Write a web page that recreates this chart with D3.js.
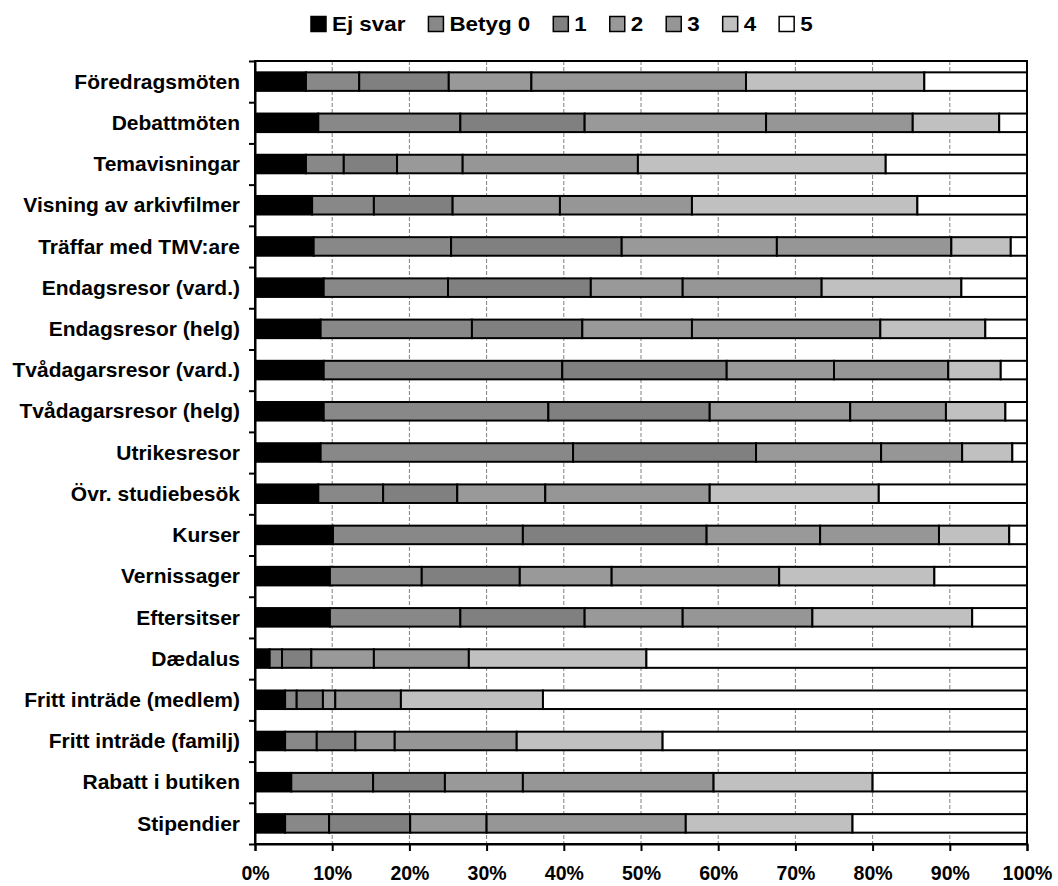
<!DOCTYPE html>
<html><head><meta charset="utf-8">
<script src="https://cdn.jsdelivr.net/npm/d3@7"></script>
<style>
body{margin:0;background:#fff}
text{font-family:"Liberation Sans",Arial,sans-serif;font-weight:bold;fill:#000}
</style>
</head><body><svg id="c" width="1058" height="886"></svg>
<script>
const categories = ["Föredragsmöten","Debattmöten","Temavisningar","Visning av arkivfilmer","Träffar med TMV:are","Endagsresor (vard.)","Endagsresor (helg)","Tvådagarsresor (vard.)","Tvådagarsresor (helg)","Utrikesresor","Övr. studiebesök","Kurser","Vernissager","Eftersitser","Dædalus","Fritt inträde (medlem)","Fritt inträde (familj)","Rabatt i butiken","Stipendier"];
const seriesNames = ["Ej svar","Betyg 0","1","2","3","4","5"];
const ejSvar = [6.6,8.2,6.6,7.4,7.6,8.9,8.5,8.9,8.9,8.5,8.2,10.1,9.7,9.7,1.9,3.9,3.9,4.7,3.9];
const betyg0 = [6.9,18.4,4.9,8.0,17.8,16.1,19.6,30.9,29.1,32.7,8.4,24.6,11.9,16.9,1.6,1.5,4.1,10.6,5.7];
const betyg1 = [11.6,16.1,6.9,10.2,22.1,18.5,14.3,21.3,20.9,23.7,9.6,23.8,12.7,16.1,3.8,3.4,5.0,9.3,10.5];
const betyg2 = [10.7,23.5,8.5,13.9,20.1,11.9,14.2,13.9,18.2,16.2,11.4,14.7,11.9,12.7,8.1,1.6,5.1,10.1,9.9];
const betyg3 = [27.8,19.0,22.7,17.1,22.6,18.0,24.4,14.8,12.4,10.5,21.3,15.4,21.7,16.8,12.3,8.5,15.8,24.7,25.8];
const betyg4 = [23.1,11.2,32.1,29.2,7.7,18.1,13.6,6.8,7.7,6.5,21.9,9.1,20.1,20.7,23.0,18.4,18.9,20.6,21.6];
const betyg5 = [13.3,3.6,18.3,14.2,2.1,8.5,5.4,3.4,2.8,1.9,19.2,2.3,12.0,7.1,49.3,62.7,47.2,20.0,22.6];
const xTicks = [0,0.1,0.2,0.3,0.4,0.5,0.6,0.7,0.8,0.9,1];
const colors = ["#000000","#888888","#808080","#999999","#969696","#c0c0c0","#ffffff"];

const seriesValues = [ejSvar,betyg0,betyg1,betyg2,betyg3,betyg4,betyg5];
const rows = categories.map((c,i)=>{
  const o = {cat:c};
  seriesNames.forEach((s,j)=>o[s]=seriesValues[j][i]);
  return o;
});
const stack = d3.stack().keys(seriesNames).offset(d3.stackOffsetExpand);
const stacked = stack(rows);

const svg = d3.select("#c");
const L=255,R=1027,T=61,B=844;
const x = d3.scaleLinear([0,1],[L,R]);
const y = d3.scaleBand(categories,[T,B]).paddingInner(0.55).paddingOuter(0.275);
const yLin = d3.scaleLinear([0,categories.length],[T,B]);

// gridlines
svg.append("g").selectAll("line").data(xTicks.slice(1,-1)).join("line")
  .attr("x1",d=>x(d)).attr("x2",d=>x(d)).attr("y1",T).attr("y2",B)
  .attr("stroke","#808080").attr("stroke-width",1).attr("stroke-dasharray","4,2");

// bars
svg.append("g").selectAll("g").data(stacked).join("g")
  .attr("fill",(d,i)=>colors[i])
  .selectAll("rect").data(d=>d).join("rect")
  .attr("x",d=>x(d[0])).attr("width",d=>x(d[1])-x(d[0]))
  .attr("y",d=>y(d.data.cat)).attr("height",y.bandwidth())
  .attr("stroke","#000").attr("stroke-width",2);

// border
svg.append("rect").attr("x",L).attr("y",T).attr("width",R-L).attr("height",B-T)
  .attr("fill","none").attr("stroke","#000").attr("stroke-width",2);

// x axis
const xa = svg.append("g").attr("transform",`translate(0,${B})`)
  .call(d3.axisBottom(x).tickValues(xTicks).tickFormat(d3.format(".0%")).tickSize(7).tickPadding(15));
xa.select(".domain").attr("stroke","#000").attr("stroke-width",2);
xa.selectAll(".tick line").attr("stroke","#000").attr("stroke-width",2);
xa.selectAll("text").style("font-size","19.5px").style("font-family",'"Liberation Sans",Arial,sans-serif').style("font-weight","bold");

// y ticks
const ya = svg.append("g").attr("transform",`translate(${L},0)`)
  .call(d3.axisLeft(yLin).tickValues(d3.range(0,categories.length+1)).tickFormat("").tickSize(6).tickSizeOuter(0));
ya.select(".domain").attr("stroke","#000").attr("stroke-width",2);
ya.selectAll(".tick line").attr("stroke","#000").attr("stroke-width",2);

// category labels
svg.append("g").selectAll("text").data(categories).join("text")
  .attr("transform",d=>`translate(240,${y(d)+y.bandwidth()/2}) scale(1.05,1)`)
  .attr("dy","0.36em")
  .attr("text-anchor","end").style("font-size","20px").text(d=>d);

// legend
const lg = svg.append("g");
let lx = 311;
const sx = 1.12;
seriesNames.forEach((s,i)=>{
  lg.append("rect").attr("x",lx).attr("y",16.5).attr("width",15).attr("height",15)
    .attr("fill",colors[i]).attr("stroke","#000").attr("stroke-width",1.5);
  const t = lg.append("text").attr("transform",`translate(${lx+21},31) scale(${sx},1)`)
    .style("font-size","20px").text(s);
  lx += 21 + t.node().getComputedTextLength()*sx + 23;
});
</script>
</body></html>
